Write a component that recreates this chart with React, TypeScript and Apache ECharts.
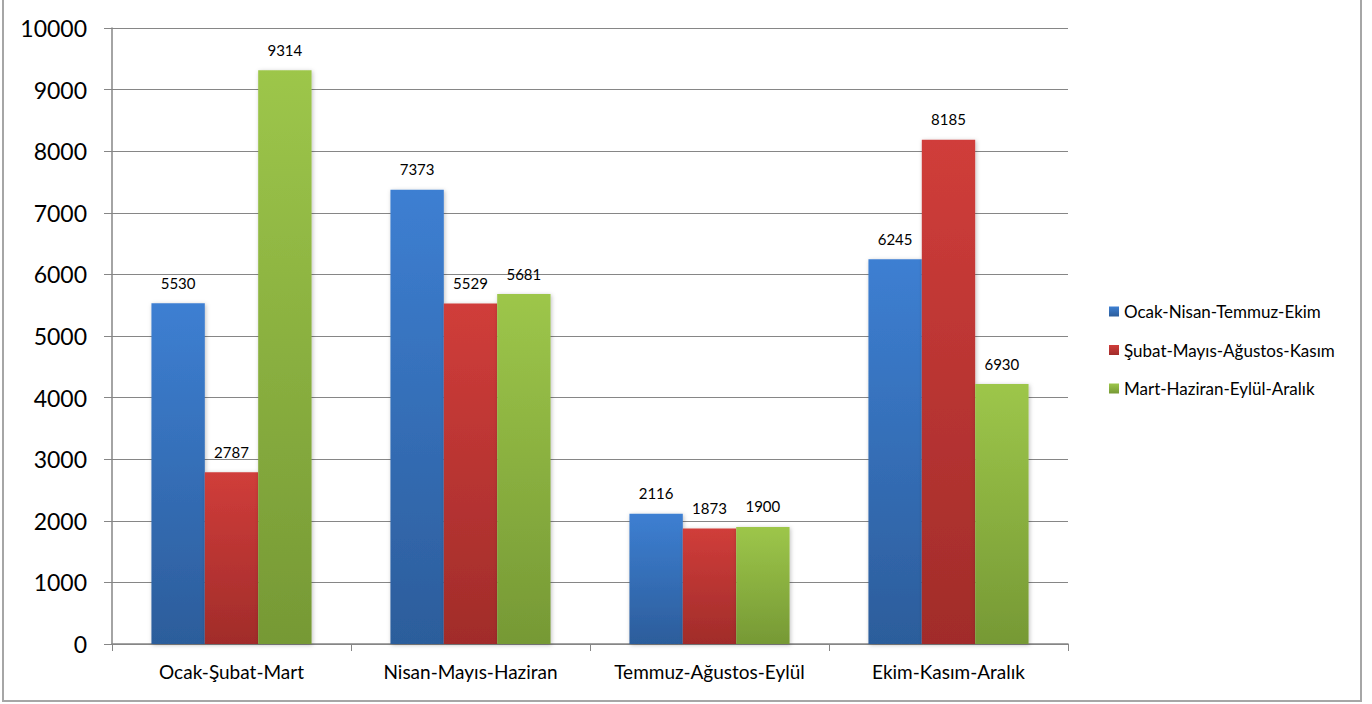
import React, { useEffect, useRef } from "react";
import * as echarts from "echarts";

const categories = ["Ocak-Şubat-Mart", "Nisan-Mayıs-Haziran", "Temmuz-Ağustos-Eylül", "Ekim-Kasım-Aralık"];
const seriesNames = ["Ocak-Nisan-Temmuz-Ekim", "Şubat-Mayıs-Ağustos-Kasım", "Mart-Haziran-Eylül-Aralık"];
const values1 = [5530, 7373, 2116, 6245];
const values2 = [2787, 5529, 1873, 8185];
const values3 = [9314, 5681, 1900, 4220];
const labels1 = ["5530", "7373", "2116", "6245"];
const labels2 = ["2787", "5529", "1873", "8185"];
const labels3 = ["9314", "5681", "1900", "6930"];
const yTicks = [0, 1000, 2000, 3000, 4000, 5000, 6000, 7000, 8000, 9000, 10000];

const FONT = "Lato, 'Open Sans', sans-serif";

function grad(top: string, bottom: string) {
  return new echarts.graphic.LinearGradient(0, 0, 0, 1, [
    { offset: 0, color: top },
    { offset: 1, color: bottom },
  ]);
}

export default function App() {
  const ref = useRef<HTMLDivElement>(null);
  useEffect(() => {
    document.body.style.margin = "0";
    const chart = echarts.init(ref.current!, undefined, { renderer: "svg" });
    const colors = [
      ["#3d7fd2", "#2c5d9b"],
      ["#d03d3a", "#a12c2a"],
      ["#9dc64a", "#769935"],
    ];
    const vals = [values1, values2, values3];
    const labs = [labels1, labels2, labels3];
    chart.setOption({
      animation: false,
      graphic: [
        {
          type: "rect",
          shape: { x: 3, y: -5, width: 1358, height: 706 },
          style: { fill: "none", stroke: "#a6a6a6", lineWidth: 2 },
          silent: true,
        },
      ],
      legend: {
        orient: "vertical",
        left: 1104,
        top: 298,
        itemWidth: 10,
        itemHeight: 10,
        itemGap: 21.5,
        icon: "rect",
        textStyle: { fontFamily: FONT, fontSize: 17, color: "#000" },
        data: seriesNames,
      },
      grid: { left: 112, top: 28, width: 956, height: 616, containLabel: false },
      xAxis: {
        type: "category",
        data: categories,
        axisLine: { lineStyle: { color: "#868686", width: 1.5 } },
        axisTick: { show: true, length: 7, lineStyle: { color: "#868686" } },
        axisLabel: { interval: 0, fontFamily: FONT, fontSize: 19, color: "#000", margin: 18 },
      },
      yAxis: {
        type: "value",
        min: yTicks[0],
        max: yTicks[yTicks.length - 1],
        interval: 1000,
        axisLine: { show: true, lineStyle: { color: "#868686", width: 1.5 } },
        axisTick: { show: true, length: 8, lineStyle: { color: "#868686" } },
        splitLine: { lineStyle: { color: "#868686", width: 1.2 } },
        axisLabel: {
          fontFamily: FONT,
          fontSize: 23,
          color: "#000",
          margin: 25,
          formatter: (v: number) => String(v),
        },
      },
      series: seriesNames.map((name, i) => ({
        name,
        type: "bar",
        barGap: "0%",
        barCategoryGap: "33%",
        data: vals[i].map((v, j) => ({
          value: v,
          label: { formatter: labs[i][j] },
        })),
        itemStyle: {
          color: grad(colors[i][0], colors[i][1]),
          shadowColor: "rgba(0,0,0,0.25)",
          shadowBlur: 4,
          shadowOffsetX: 1,
          shadowOffsetY: 1,
        },
        label: {
          show: true,
          position: "top",
          distance: 13,
          fontFamily: FONT,
          fontSize: 15,
          color: "#000",
        },
      })),
      color: colors.map((c) => c[0]),
    });
    return () => chart.dispose();
  }, []);
  return <div ref={ref} style={{ width: 1372, height: 704 }} />;
}
